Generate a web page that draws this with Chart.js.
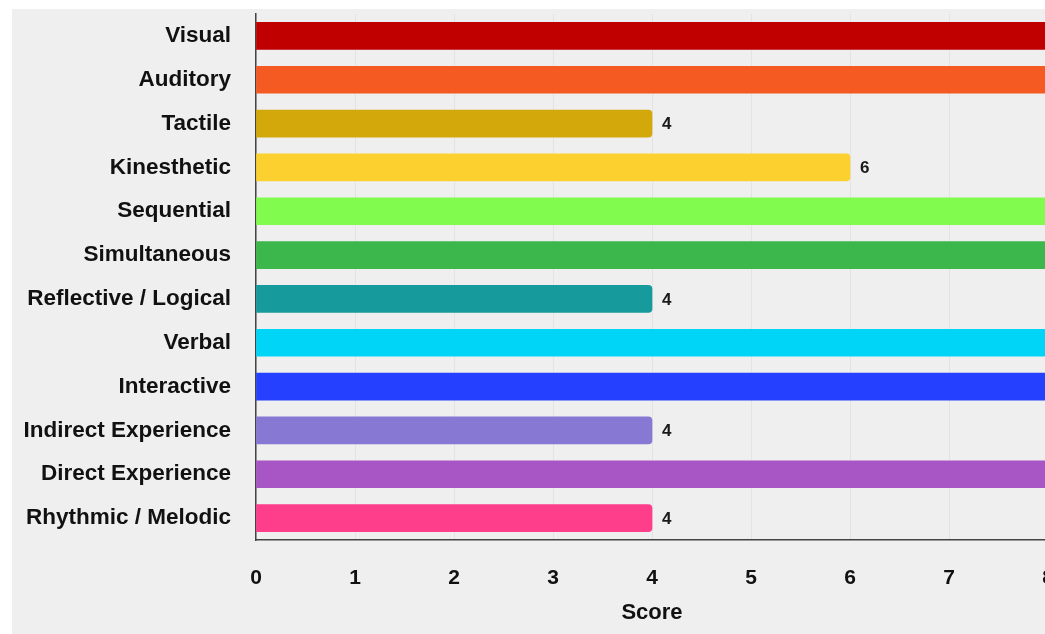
<!DOCTYPE html>
<html>
<head>
<meta charset="utf-8">
<script src="https://cdn.jsdelivr.net/npm/chart.js@4/dist/chart.umd.min.js"></script>
<style>
  html, body { margin: 0; padding: 0; background: #ffffff; overflow: hidden; }
  #wrap {
    position: absolute; left: 12px; top: 9px;
    width: 1070px; height: 625px;
    background: #efefef;
  }
  #wrap canvas { display: block; }
</style>
</head>
<body>
<div id="wrap"><canvas id="stilGraf" width="1070" height="625"></canvas></div>
<script>
  // Data
  const kategorier = [
    "Visual", "Auditory", "Tactile", "Kinesthetic", "Sequential", "Simultaneous",
    "Reflective / Logical", "Verbal", "Interactive", "Indirect Experience",
    "Direct Experience", "Rhythmic / Melodic"
  ];
  const poang = [8, 8, 4, 6, 8, 8, 4, 8, 8, 4, 8, 4];
  const farger = [
    "#c00000", "#f65a23", "#d3a80b", "#fcd12f", "#80fb4e", "#3bb74b",
    "#169a9b", "#00d5f8", "#2540ff", "#8779d3", "#a855c6", "#fe3d8b"
  ];
  const xTicks = [0, 1, 2, 3, 4, 5, 6, 7, 8];

  const typsnitt = "'Liberation Sans', Arial, Helvetica, sans-serif";

  // Skriver värdet efter varje stapel
  const vardeEtiketter = {
    id: "vardeEtiketter",
    afterDatasetsDraw(chart) {
      const ctx = chart.ctx;
      const meta = chart.getDatasetMeta(0);
      ctx.save();
      ctx.font = "bold 17px " + typsnitt;
      ctx.fillStyle = "#1a1a1a";
      ctx.textAlign = "left";
      ctx.textBaseline = "middle";
      meta.data.forEach((bar, i) => {
        ctx.fillText(String(poang[i]), bar.x + 10, bar.y + 1);
      });
      ctx.restore();
    }
  };

  const ctx = document.getElementById("stilGraf").getContext("2d");
  new Chart(ctx, {
    type: "bar",
    data: {
      labels: kategorier,
      datasets: [{
        data: poang,
        backgroundColor: farger,
        borderRadius: 4,
        barThickness: 27
      }]
    },
    plugins: [vardeEtiketter],
    options: {
      indexAxis: "y",
      responsive: false,
      animation: false,
      layout: { padding: { top: 5, right: 34, bottom: 8, left: 0 } },
      plugins: {
        legend: { display: false },
        tooltip: { enabled: false }
      },
      scales: {
        x: {
          min: 0,
          max: 8,
          afterBuildTicks: s => { s.ticks = xTicks.map(v => ({ value: v })); },
          afterFit: s => { s.height = 86; s.paddingLeft = 0; s.paddingRight = 0; },
          grid: { color: "#e3e3e3", drawTicks: false },
          border: { display: true, color: "#444", width: 1.5 },
          ticks: {
            padding: 26,
            autoSkip: false,
            maxRotation: 0,
            color: "#111",
            font: { family: typsnitt, size: 21, weight: "bold" }
          },
          title: {
            display: true,
            text: "Score",
            color: "#111",
            padding: { top: 4, bottom: 0 },
            font: { family: typsnitt, size: 22, weight: "bold" }
          }
        },
        y: {
          afterFit: s => { s.width = 244; s.paddingTop = 0; s.paddingBottom = 0; },
          grid: { color: "transparent", drawTicks: false },
          border: { display: true, color: "#444", width: 1.5 },
          ticks: {
            padding: 25,
            color: "#111",
            font: { family: typsnitt, size: 22.5, weight: "bold" }
          }
        }
      }
    }
  });
</script>
</body>
</html>
